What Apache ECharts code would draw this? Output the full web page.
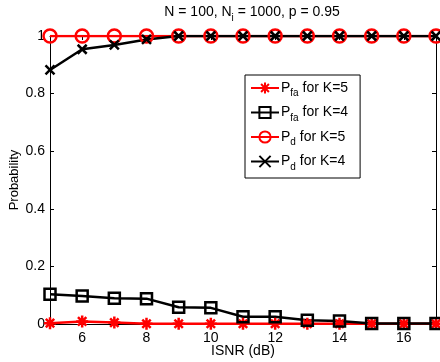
<!DOCTYPE html>
<html>
<head>
<meta charset="utf-8">
<script src="https://cdn.jsdelivr.net/npm/echarts@6/dist/echarts.min.js"></script>
<style>
  html, body { margin: 0; padding: 0; background: #fff; }
  #chart { width: 440px; height: 362px; }
</style>
</head>
<body>
<div id="chart"></div>
<script>
// ISNR (dB) on the x axis
const isnr = [5, 6, 7, 8, 9, 10, 11, 12, 13, 14, 15, 16, 17];
const pfaK5 = [0.003, 0.009, 0.005, 0.001, 0.001, 0.001, 0.001, 0.001, 0.001, 0.001, 0.001, 0.001, 0.001];
const pfaK4 = [0.103, 0.097, 0.089, 0.088, 0.058, 0.056, 0.025, 0.025, 0.013, 0.01, 0.002, 0.002, 0.002];
const pdK5 = [1, 1, 1, 1, 1, 1, 1, 1, 1, 1, 1, 1, 1];
const pdK4 = [0.882, 0.954, 0.969, 0.988, 1, 1, 1, 1, 1, 1, 1, 1, 1];
const xTicks = [6, 8, 10, 12, 14, 16];

const font = 'Liberation Sans, Arial, Helvetica, sans-serif';
const starPath = 'path://M0,-10L0,10M-10,0L10,0M-7,-7L7,7M-7,7L7,-7';
const crossPath = 'path://M-10,-10L10,10M-10,10L10,-10';

const zip = ys => isnr.map((x, i) => [x, ys[i]]);

const subRich = {
  a: { fontSize: 14, fontFamily: font, fontWeight: 'normal', color: '#000', lineHeight: 21 },
  b: { fontSize: 10, fontFamily: font, fontWeight: 'normal', color: '#000', lineHeight: 10, verticalAlign: 'bottom' }
};

function mkSeries(name, data, color, symbol, size) {
  return {
    name: name,
    type: 'line',
    data: zip(data),
    symbol: symbol,
    symbolSize: size,
    showAllSymbol: true,
    lineStyle: { color: color, width: 2.5 },
    itemStyle: { color: 'transparent', borderColor: color, borderWidth: 2.5 },
    emphasis: { disabled: true },
    animation: false
  };
}

const chart = echarts.init(document.getElementById('chart'));

const axisCommon = {
  axisLine: { show: true, onZero: false, lineStyle: { color: '#000', width: 1 } },
  axisTick: { show: true, inside: true, length: 4, lineStyle: { color: '#000' } },
  splitLine: { show: false }
};

chart.setOption({
  backgroundColor: '#fff',
  title: {
    text: '{a|N = 100, N}{b|i}{a| = 1000, p = 0.95}',
    left: 247,
    textAlign: 'center',
    top: -3,
    textStyle: { rich: subRich }
  },
  grid: { left: 50, right: 4, top: 36, bottom: 38, containLabel: false, outerBoundsMode: 'none' },
  legend: {
    orient: 'vertical',
    left: 245,
    top: 75,
    padding: [6, 12, 6, 5],
    itemGap: 7,
    itemWidth: 28,
    itemHeight: 14,
    backgroundColor: '#fff',
    borderColor: '#000',
    borderWidth: 1,
    borderRadius: 0,
    selectedMode: false,
    data: ['pfa5', 'pfa4', 'pd5', 'pd4'],
    formatter: function (name) {
      const map = {
        pfa5: '{a|P}{b|fa}{a| for K=5}',
        pfa4: '{a|P}{b|fa}{a| for K=4}',
        pd5: '{a|P}{b|d}{a| for K=5}',
        pd4: '{a|P}{b|d}{a| for K=4}'
      };
      return map[name];
    },
    textStyle: { rich: subRich, padding: [0, 0, 0, -3] }
  },
  xAxis: [
    Object.assign({}, axisCommon, {
      type: 'value',
      min: 5,
      max: 17,
      position: 'bottom',
      name: 'ISNR (dB)',
      nameLocation: 'middle',
      nameGap: 20,
      nameMoveOverlap: false,
      nameTextStyle: { fontSize: 14, fontFamily: font, color: '#000', verticalAlign: 'top' },
      axisLabel: { customValues: xTicks, fontSize: 14, fontFamily: font, color: '#000', margin: 7 },
      axisTick: { show: true, inside: true, length: 4, customValues: xTicks, lineStyle: { color: '#000' } }
    }),
    Object.assign({}, axisCommon, {
      type: 'value',
      min: 5,
      max: 17,
      position: 'top',
      axisLabel: { show: false },
      axisTick: { show: true, inside: true, length: 4, customValues: xTicks, lineStyle: { color: '#000' } }
    })
  ],
  yAxis: [
    Object.assign({}, axisCommon, {
      type: 'value',
      min: 0,
      max: 1,
      interval: 0.2,
      position: 'left',
      name: 'Probability',
      nameLocation: 'middle',
      nameGap: 29,
      nameMoveOverlap: false,
      nameTextStyle: { fontSize: 13, fontFamily: font, color: '#000' },
      axisLabel: { fontSize: 14, fontFamily: font, color: '#000', margin: 5 }
    }),
    Object.assign({}, axisCommon, {
      type: 'value',
      min: 0,
      max: 1,
      interval: 0.2,
      position: 'right',
      axisLabel: { show: false }
    })
  ],
  series: [
    mkSeries('pfa5', pfaK5, '#ff0000', starPath, 12),
    mkSeries('pfa4', pfaK4, '#000000', 'rect', 11),
    mkSeries('pd5', pdK5, '#ff0000', 'circle', 13),
    mkSeries('pd4', pdK4, '#000000', crossPath, 9)
  ]
});
</script>
</body>
</html>
